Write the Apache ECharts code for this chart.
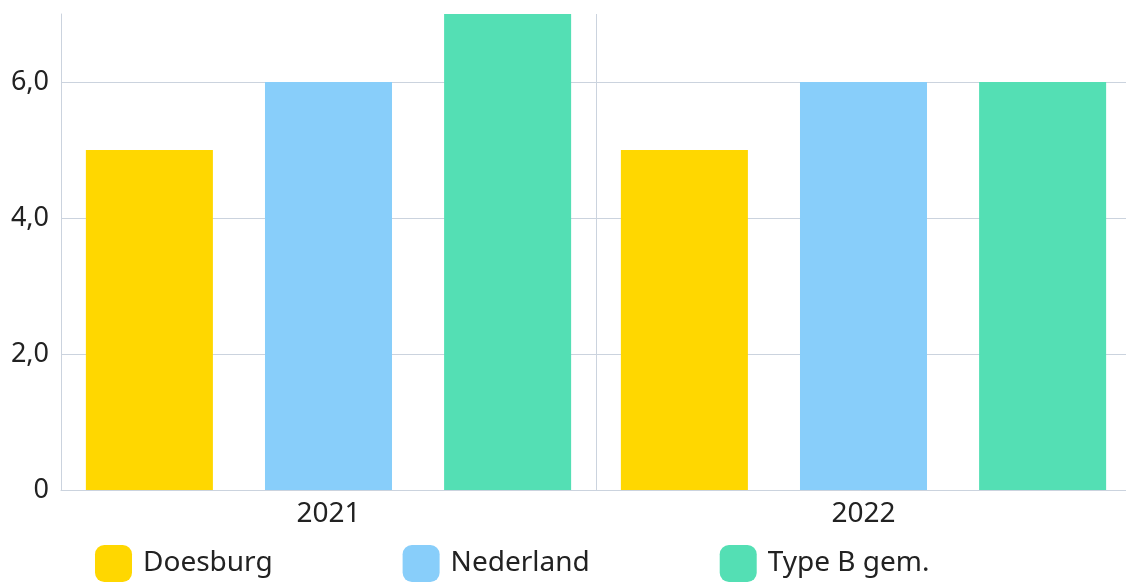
<!DOCTYPE html>
<html>
<head>
<meta charset="utf-8">
<script src="https://cdn.jsdelivr.net/npm/echarts@6/dist/echarts.min.js"></script>
<style>
  html, body { margin: 0; padding: 0; background: #fff; }
  #chart { width: 1126px; height: 583px; }
</style>
</head>
<body>
<div id="chart"></div>
<script>
const categories = ['2021', '2022']
const doesburg = [5, 5]
const nederland = [6, 6]
const typeB = [7, 6]
const lineColor = '#cbd3de'
const font = 'Noto Sans'

const chart = echarts.init(document.getElementById('chart'))

const bar = (name, data, color) => ({
  name: name,
  type: 'bar',
  data: data,
  itemStyle: { color: color },
  barCategoryGap: '9.3%',
  barGap: '41%'
})

chart.setOption({
  animation: false,
  textStyle: { fontFamily: font },
  grid: { left: 61, width: 1070, top: 14, bottom: 93, containLabel: false, outerBoundsMode: 'none' },
  legend: {
    left: 95,
    top: 545,
    padding: 0,
    itemWidth: 37,
    itemHeight: 37,
    itemGap: 130,
    icon: 'roundRect',
    textStyle: { fontSize: 28, color: '#222', fontFamily: font, padding: [0, 0, 0, 6] }
  },
  xAxis: {
    type: 'category',
    data: categories,
    axisTick: { show: false },
    axisLine: { lineStyle: { color: lineColor } },
    splitLine: { show: true, lineStyle: { color: lineColor } },
    axisLabel: { fontSize: 28, color: '#222', margin: 10 }
  },
  yAxis: {
    type: 'value',
    min: 0,
    max: 7,
    interval: 2,
    axisLine: { show: true, lineStyle: { color: lineColor } },
    axisTick: { show: false },
    splitLine: {
      lineStyle: { color: [lineColor, lineColor, lineColor, lineColor, 'rgba(0,0,0,0)'] }
    },
    axisLabel: {
      fontSize: 27,
      color: '#222',
      margin: 12,
      formatter: v => v === 0 ? '0' : (v === 7 ? '' : v.toFixed(1).replace('.', ','))
    }
  },
  series: [
    bar('Doesburg', doesburg, '#ffd700'),
    bar('Nederland', nederland, '#88cefa'),
    bar('Type B gem.', typeB, '#54dfb4')
  ]
})
</script>
</body>
</html>
